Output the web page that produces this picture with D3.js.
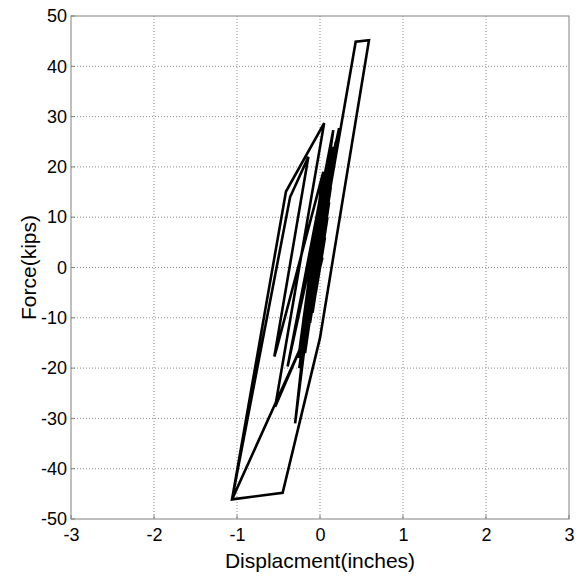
<!DOCTYPE html>
<html>
<head>
<meta charset="utf-8">
<script src="https://cdn.jsdelivr.net/npm/d3@7/dist/d3.min.js"></script>
<style>
  html, body { margin: 0; padding: 0; background: #ffffff; }
  svg { display: block; }
  text { font-family: Arial, "Liberation Sans", sans-serif; fill: #000; }
</style>
</head>
<body>
<script>
// ---- data ----
const xTicks = [-3, -2, -1, 0, 1, 2, 3];
const yTicks = [-50, -40, -30, -20, -10, 0, 10, 20, 30, 40, 50];
const xLabel = "Displacment(inches)";
const yLabel = "Force(kips)";

// displacement (inches), in time order
const displacement = [
  0.00, 0.06, -0.05, 0.09, -0.09, 0.11, -0.12, 0.13, -0.15, 0.10,
  -0.17, 0.14, -0.19, 0.12, -0.21, 0.17, -0.18, 0.15, -0.23, 0.19,
  -0.22, 0.16, -0.20, -1.06, -0.36, -0.14, -0.55, -0.52, 0.04, -0.26,
  0.21, -0.24, 0.18, -0.20, 0.43, 0.59, 0.00, -0.45, -1.06, -0.41,
  0.05, -0.54, -0.20, 0.16, -0.39, 0.23, -0.25, 0.10, -0.30, 0.02,
  -0.21, 0.14, -0.24, 0.18, -0.22, 0.11, -0.19, 0.16, -0.25, 0.20,
  -0.17, 0.12, -0.23, 0.15, -0.20, 0.09, -0.18, 0.13, -0.21, 0.17,
  -0.15, 0.07, -0.19, 0.11, -0.16, 0.06, -0.13, 0.08, -0.10, 0.04,
  -0.16, 0.08, -0.12, 0.05, -0.06, 0.03
];
// force (kips), in time order
const force = [
  0, 6, -5, 10, -9, 13, -11, 16, -13, 17,
  -14, 20, -15, 21, -16, 23, -17, 24, -17, 25,
  -18, 22, -14.7, -46.1, 14, 22, -17.7, -16, 19, -18,
  26, -16, 24, -15, 44.9, 45.2, -14, -44.8, -46.1, 15.1,
  28.7, -27.7, -14.7, 27.3, -19.7, 27.7, -20, 22, -31, 17,
  -17, 21, -19, 24, -18, 19, -16, 23, -20, 25,
  -15, 20, -19, 22, -17, 17, -15, 21, -18, 23,
  -13, 15, -16, 18, -14, 13, -11, 14, -9, 10,
  -12, 12, -9, 7, -4, 2
];

// ---- layout ----
const W = 581, H = 581;
const L = 71, R = 569, T = 16, B = 519;

const svg = d3.select("body").append("svg")
  .attr("width", W).attr("height", H);

const x = d3.scaleLinear().domain([-3, 3]).range([L, R]);
const y = d3.scaleLinear().domain([-50, 50]).range([B, T]);

// grid
const grid = svg.append("g");
grid.selectAll("line.gx").data(xTicks.slice(1, -1)).enter().append("line")
  .attr("x1", d => x(d)).attr("x2", d => x(d))
  .attr("y1", T).attr("y2", B)
  .attr("stroke", "#8a8a8a").attr("stroke-width", 1)
  .attr("stroke-dasharray", "1,2");
grid.selectAll("line.gy").data(yTicks.slice(1, -1)).enter().append("line")
  .attr("y1", d => y(d)).attr("y2", d => y(d))
  .attr("x1", L).attr("x2", R)
  .attr("stroke", "#8a8a8a").attr("stroke-width", 1)
  .attr("stroke-dasharray", "1,2");

// data path
const pts = displacement.map((d, i) => [d, force[i]]);
const line = d3.line().x(d => x(d[0])).y(d => y(d[1]));
svg.append("path")
  .datum(pts)
  .attr("d", line)
  .attr("fill", "none")
  .attr("stroke", "#000")
  .attr("stroke-width", 2.6)
  .attr("stroke-linejoin", "miter")
  .attr("stroke-miterlimit", 4);

// axes frame
svg.append("rect")
  .attr("x", L).attr("y", T)
  .attr("width", R - L).attr("height", B - T)
  .attr("fill", "none").attr("stroke", "#808080").attr("stroke-width", 1);

const fmt = d => String(d);   // hyphen-minus like the reference

const xAxis = d3.axisBottom(x).tickValues(xTicks).tickSize(0).tickPadding(10)
  .tickFormat(fmt);
const gx = svg.append("g").attr("transform", `translate(0,${B})`).call(xAxis);
gx.select(".domain").remove();
gx.selectAll("text").attr("font-size", 18).attr("font-family", "Arial, 'Liberation Sans', sans-serif")
  .attr("dy", "0.71em").attr("y", 9);

const yAxis = d3.axisLeft(y).tickValues(yTicks).tickSize(0).tickPadding(4)
  .tickFormat(fmt);
const gy = svg.append("g").attr("transform", `translate(${L},0)`).call(yAxis);
gy.select(".domain").remove();
gy.selectAll("text").attr("font-size", 18).attr("font-family", "Arial, 'Liberation Sans', sans-serif");

// inner ticks
svg.append("g").selectAll("line").data(xTicks).enter().append("line")
  .attr("x1", d => x(d)).attr("x2", d => x(d))
  .attr("y1", B).attr("y2", B - 4).attr("stroke", "#808080");
svg.append("g").selectAll("line").data(yTicks).enter().append("line")
  .attr("y1", d => y(d)).attr("y2", d => y(d))
  .attr("x1", L).attr("x2", L + 4).attr("stroke", "#808080");

// axis titles
svg.append("text")
  .attr("x", (L + R) / 2).attr("y", 568)
  .attr("text-anchor", "middle")
  .attr("font-size", 21)
  .text(xLabel);

svg.append("text")
  .attr("transform", `translate(36,${(T + B) / 2}) rotate(-90)`)
  .attr("text-anchor", "middle")
  .attr("font-size", 21)
  .text(yLabel);
</script>
</body>
</html>
